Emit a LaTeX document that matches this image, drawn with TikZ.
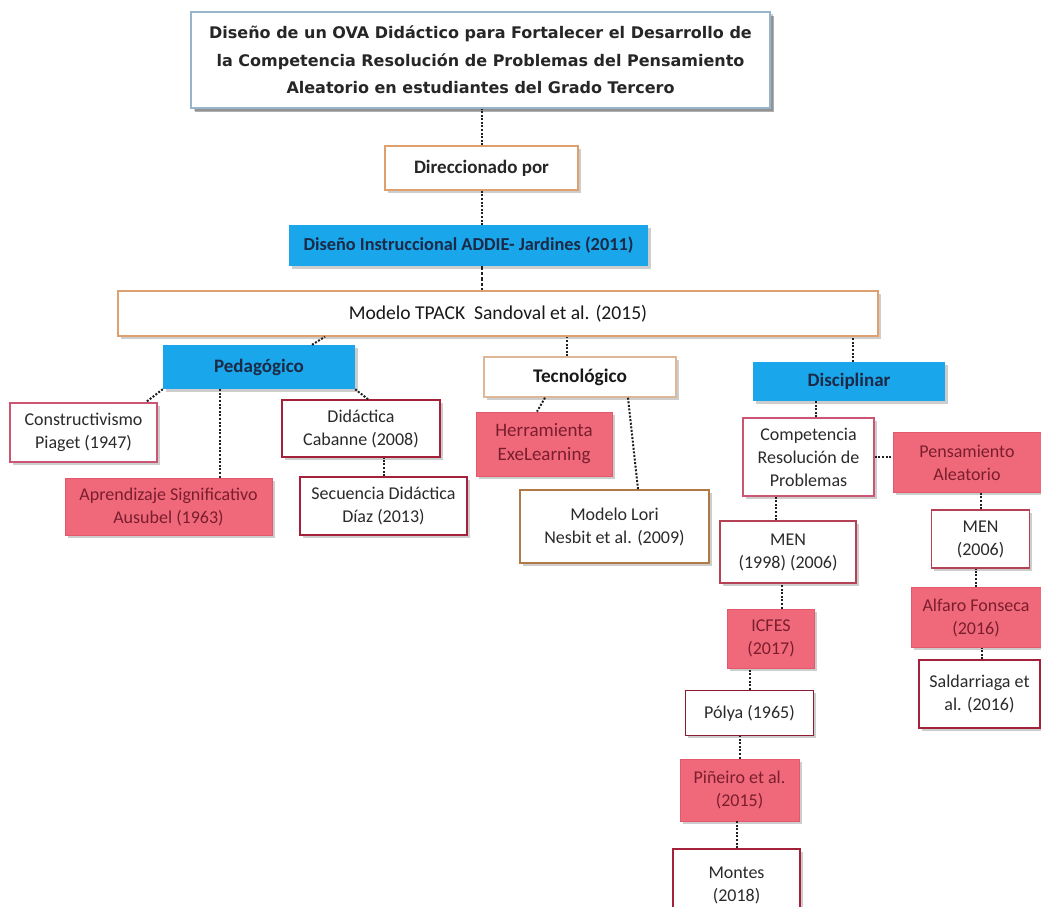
\documentclass[tikz,border=0pt]{standalone}
\usepackage{fontspec}
\setmainfont{Carlito}
\newfontfamily\titlefont{DejaVu Sans}
\usetikzlibrary{shadows,calc}

\definecolor{skyfill}{HTML}{1AA6EA}
\definecolor{skytext}{HTML}{1B2A47}
\definecolor{rosefill}{HTML}{F0697B}
\definecolor{rosedraw}{HTML}{E3586C}
\definecolor{rosetext}{HTML}{7A1E2C}
\definecolor{crimson}{HTML}{A3213A}
\definecolor{softred}{HTML}{CC5573}
\definecolor{tan}{HTML}{DDA06E}
\definecolor{lighttan}{HTML}{DDB898}
\definecolor{brown}{HTML}{B07A48}
\definecolor{steel}{HTML}{97B5CA}
\definecolor{txtgray}{HTML}{2A2A2A}
\definecolor{connc}{HTML}{202020}

\tikzset{
  base/.style={inner sep=2pt, align=center, text=txtgray,
    font=\fontsize{18}{23}\selectfont,
    drop shadow={opacity=0.28, shadow xshift=2.5pt, shadow yshift=-2.5pt, fill=black!70}},
  wbox/.style={base, draw=crimson, line width=1.5pt, fill=white},
  softbox/.style={base, draw=softred, line width=1.4pt, fill=white},
  rosebox/.style={base, draw=rosedraw, line width=0.8pt, fill=rosefill, text=rosetext},
  skybox/.style={base, fill=skyfill, text=skytext,
    font=\fontsize{19}{23}\selectfont\bfseries},
  tanbox/.style={base, draw=tan, line width=1.4pt, fill=white},
  conn/.style={draw=connc, line width=2pt, dash pattern=on 2pt off 1.6pt},
  dconn/.style={draw=connc, line width=2pt, dash pattern=on 3.5pt off 2pt},
}

\begin{document}
\begin{tikzpicture}[x=1pt,y=-1pt]
\useasboundingbox (0,0) rectangle (1041,907);

% top of the hierarchy
\node[base, draw=steel, line width=1.5pt, fill=white, text=black!85,
      minimum width=579, minimum height=96,
      font=\titlefont\bfseries\fontsize{16}{27.5}\selectfont,
      drop shadow={opacity=0.45, shadow xshift=4pt, shadow yshift=-4pt, fill=black!70}]
  (title) at (480.5,60)
  {Diseño de un OVA Didáctico para Fortalecer el Desarrollo de\\
   la Competencia Resolución de Problemas del Pensamiento\\
   Aleatorio en estudiantes del Grado Tercero};

\node[tanbox, minimum width=193, minimum height=44, text=black!85,
      font=\fontsize{19}{23}\selectfont\bfseries]
  (dir) at (481.5,168) {Direccionado por};

\node[skybox, minimum width=359, minimum height=41, font=\fontsize{18.3}{22}\selectfont\bfseries]
  (addie) at (468.5,245.5) {Diseño Instruccional ADDIE- Jardines (2011)};

\node[tanbox, minimum width=760, minimum height=45, text=black!90,
      font=\fontsize{19.6}{24}\selectfont]
  (tpack) at (498,313.5) {Modelo TPACK\ \ Sandoval et al. (2015)};

% three components
\node[skybox, minimum width=192, minimum height=44] (ped) at (259,367) {Pedagógico};
\node[base, draw=lighttan, line width=1.4pt, fill=white, text=black!90,
      minimum width=192, minimum height=40,
      font=\fontsize{19.3}{23}\selectfont\bfseries]
  (tec) at (580,377) {Tecnológico};
\node[skybox, minimum width=192, minimum height=39] (dis) at (849,381.5) {Disciplinar};

% pedagogical branch
\node[softbox, minimum width=147, minimum height=59] (cons) at (83.5,432.5)
  {Constructivismo\\Piaget (1947)};
\node[rosebox, minimum width=207, minimum height=57] (apr) at (168.5,506.5)
  {Aprendizaje Significativo\\Ausubel (1963)};
\node[wbox, minimum width=158, minimum height=57] (did) at (361,428.5)
  {Didáctica\\Cabanne (2008)};
\node[wbox, minimum width=167, minimum height=58] (sec) at (383.5,506)
  {Secuencia Didáctica\\Díaz (2013)};

% technological branch
\node[rosebox, minimum width=136, minimum height=64, font=\fontsize{19}{24}\selectfont]
  (her) at (544,444) {Herramienta\\ExeLearning};
\node[base, draw=brown, line width=1.6pt, fill=white,
      minimum width=189, minimum height=73] (lori) at (614.5,526.5)
  {Modelo Lori\\Nesbit et al. (2009)};

% disciplinary branch
\node[softbox, minimum width=131, minimum height=78] (comp) at (808.5,457)
  {Competencia\\Resolución de\\Problemas};
\node[rosebox, minimum width=148, minimum height=60] (pen) at (967,462.5)
  {Pensamiento\\Aleatorio};
\node[wbox, draw=crimson!80!pink, minimum width=136, minimum height=62] (men1) at (788,552)
  {MEN\\(1998) (2006)};
\node[wbox, draw=crimson!80!pink, minimum width=98, minimum height=58] (men2) at (980.5,539)
  {MEN\\(2006)};
\node[rosebox, minimum width=87, minimum height=59] (icfes) at (771,638.5)
  {ICFES\\(2017)};
\node[rosebox, minimum width=130, minimum height=60] (alf) at (976,617.5)
  {Alfaro Fonseca\\(2016)};
\node[wbox, minimum width=121, minimum height=68] (sal) at (979.5,694)
  {Saldarriaga et\\al. (2016)};
\node[wbox, draw=crimson!85!black, minimum width=128, minimum height=45] (pol) at (749.5,713)
  {Pólya (1965)};
\node[rosebox, minimum width=119, minimum height=62] (pin) at (739.5,790)
  {Piñeiro et al.\\(2015)};
\node[wbox, minimum width=127, minimum height=72] (mon) at (736.5,885)
  {Montes\\(2018)};

% connectors
\draw[conn] (dir.north) -- (dir.north |- title.south);
\draw[conn] (dir.south) -- (dir.south |- addie.north);
\draw[dconn] (addie.south -| dir.south) -- (tpack.north -| dir.south);

\draw[conn] ([xshift=53pt]ped.north) -- ([xshift=66pt]ped.north |- tpack.south);
\draw[conn] ([xshift=-13pt]tec.north) -- ([xshift=-13pt]tec.north |- tpack.south);
\draw[conn] ([xshift=4pt]dis.north) -- ([xshift=4pt]dis.north |- tpack.south);

\draw[conn] (ped.south west) -- ([xshift=-12pt]cons.north east);
\draw[conn] ([xshift=51.5pt]apr.north) -- ([xshift=51.5pt]apr.north |- ped.south);
\draw[conn] (ped.south east) -- ([xshift=7pt]did.north);
\draw[conn] (sec.north) -- (sec.north |- did.south);

\draw[conn] ([xshift=-35pt]tec.south) -- ([xshift=-7pt]her.north);
\draw[conn] ([xshift=48pt]tec.south) -- ([xshift=23.5pt]lori.north);

\draw[conn] ([xshift=7.5pt]comp.north) -- ([xshift=7.5pt]comp.north |- dis.south);
\draw[conn] (comp.east) -- (comp.east -| pen.west);
\draw[conn] ([xshift=-12pt]men1.north) -- ([xshift=-12pt]men1.north |- comp.south);
\draw[conn] (men2.north) -- (men2.north |- pen.south);
\draw[conn] ([xshift=11pt]icfes.north) -- ([xshift=11pt]icfes.north |- men1.south);
\draw[conn] (alf.north) -- (alf.north |- men2.south);
\draw[conn] ([xshift=2pt]sal.north) -- ([xshift=2pt]sal.north |- alf.south);
\draw[conn] (pol.north) -- (pol.north |- icfes.south);
\draw[conn] (pin.north) -- (pin.north |- pol.south);
\draw[conn] (mon.north) -- (mon.north |- pin.south);
\end{tikzpicture}
\end{document}
